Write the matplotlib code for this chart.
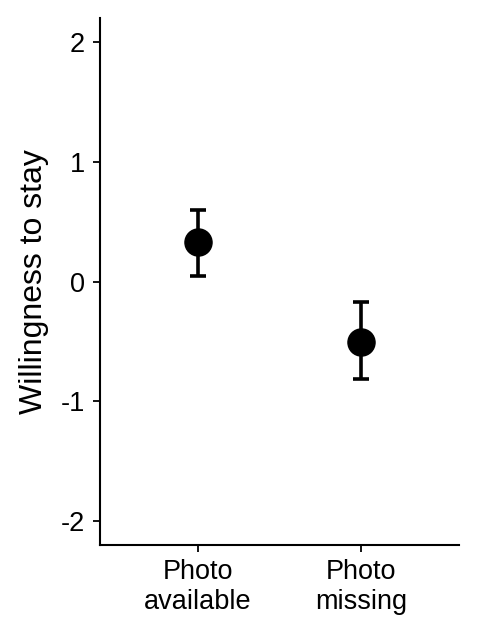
import matplotlib
matplotlib.use('Agg')
import matplotlib.pyplot as plt

plt.rcParams['font.family'] = ['Liberation Sans', 'DejaVu Sans']

groups = ['Photo\navailable', 'Photo\nmissing']
means = [0.33, -0.50]
lower = [0.05, -0.81]
upper = [0.60, -0.17]

xpos = [1, 2]
err = [[m - lo for m, lo in zip(means, lower)],
       [hi - m for m, hi in zip(means, upper)]]

fig = plt.figure(figsize=(4.78, 6.33), dpi=100)
ax = fig.add_axes([0.2092, 0.139, 0.7511, 0.832])

ax.errorbar(xpos, means, yerr=err, fmt='o', color='black', ecolor='black',
            markersize=19.5, elinewidth=2.6, capsize=6, capthick=2.6)

ax.set_xlim(0.4, 2.6)
ax.set_ylim(-2.2, 2.2)
ax.set_yticks([-2, -1, 0, 1, 2])
ax.set_yticklabels(['-2', '-1', '0', '1', '2'])
ax.set_xticks(xpos)
ax.set_xticklabels(groups, linespacing=1.2)
ax.set_ylabel('Willingness to stay', fontsize=23, labelpad=8)

for side in ['top', 'right']:
    ax.spines[side].set_visible(False)
for side in ['left', 'bottom']:
    ax.spines[side].set_linewidth(1.5)
ax.tick_params(axis='both', labelsize=19.5, width=1.3, length=5, color='black')
ax.tick_params(axis='y', pad=6)
ax.tick_params(axis='x', pad=5)

fig.savefig('out.png', dpi=100)
